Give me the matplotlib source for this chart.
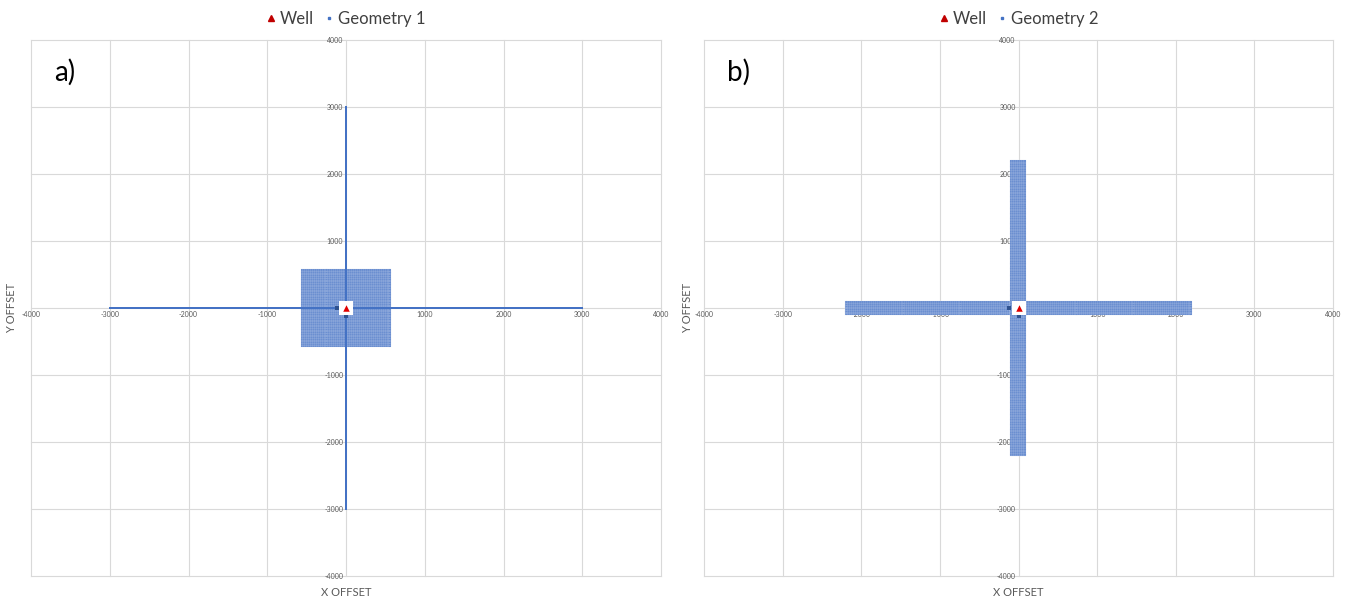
import numpy as np
import matplotlib
matplotlib.use("Agg")
import matplotlib.pyplot as plt
from matplotlib.lines import Line2D

plt.rcParams['font.family'] = ['Lato', 'DejaVu Sans']

# Well position
well_x = [0]
well_y = [0]

# Receiver patch layouts (metres)
receiver_spacing = 25          # grid spacing of the dense patches
line_spacing = 25              # spacing along the single receiver lines
central_hole = 50              # half-size of the gap around the well

# Geometry 1: square patch + single lines along both axes
geo1_patch_half = 560
geo1_line_half = 3000

# Geometry 2: cross of two wide arms
geo2_arm_half_length = 2200
geo2_arm_half_width = 90

# Near-well marker points
near_x = [-120, 0]
near_y = [0, -120]

axis_ticks = [-4000, -3000, -2000, -1000, 1000, 2000, 3000, 4000]
tick_labels = ['-4000', '-3000', '-2000', '-1000', '1000', '2000', '3000', '4000']

BLUE = '#4472C4'
DARK = '#2F528F'
GRID = '#D9D9D9'
TXT = '#595959'


def grid_points(x0, x1, y0, y1, step):
    xs = np.arange(x0, x1 + step / 2, step)
    ys = np.arange(y0, y1 + step / 2, step)
    gx, gy = np.meshgrid(xs, ys)
    return gx.ravel(), gy.ravel()


def drop_hole(x, y, h):
    keep = ~((np.abs(x) < h) & (np.abs(y) < h))
    return x[keep], y[keep]


# Geometry 1 points
p1x, p1y = grid_points(-geo1_patch_half, geo1_patch_half,
                       -geo1_patch_half, geo1_patch_half, receiver_spacing)
p1x, p1y = drop_hole(p1x, p1y, central_hole)
lx = np.arange(-geo1_line_half, geo1_line_half + 1, line_spacing)
l1x = np.concatenate([lx, np.zeros_like(lx)])
l1y = np.concatenate([np.zeros_like(lx), lx])
l1x, l1y = drop_hole(l1x, l1y, central_hole)

# Geometry 2 points
hx, hy = grid_points(-geo2_arm_half_length, geo2_arm_half_length,
                     -geo2_arm_half_width, geo2_arm_half_width, receiver_spacing)
vx, vy = grid_points(-geo2_arm_half_width, geo2_arm_half_width,
                     -geo2_arm_half_length, geo2_arm_half_length, receiver_spacing)
p2x = np.concatenate([hx, vx])
p2y = np.concatenate([hy, vy])
p2x, p2y = drop_hole(p2x, p2y, central_hole)

fig = plt.figure(figsize=(13.48, 5.99), dpi=100)
axes = [fig.add_axes([31 / 1348, 1 - 576 / 599, 630 / 1348, 536 / 599]),
        fig.add_axes([704 / 1348, 1 - 576 / 599, 629 / 1348, 536 / 599])]


def style_axes(ax):
    ax.set_xlim(-4000, 4000)
    ax.set_ylim(-4000, 4000)
    ax.set_xticks(axis_ticks)
    ax.set_xticklabels(tick_labels)
    ax.set_yticks(axis_ticks)
    ax.set_yticklabels(tick_labels)
    ax.spines['left'].set_position('zero')
    ax.spines['bottom'].set_position('zero')
    ax.spines['top'].set_visible(False)
    ax.spines['right'].set_visible(False)
    for s in ('left', 'bottom'):
        ax.spines[s].set_color(GRID)
        ax.spines[s].set_linewidth(0.8)
        ax.spines[s].set_zorder(0.5)
    ax.tick_params(length=0, labelsize=5, labelcolor=TXT, pad=2)
    ax.grid(True, color=GRID, linewidth=0.8, zorder=0)
    ax.set_axisbelow(True)
    for ln in ax.get_xgridlines() + ax.get_ygridlines():
        ln.set_clip_on(False)
    ax.patch.set_visible(False)


def legend_for(ax, name):
    h = [Line2D([], [], linestyle='none', marker='^', color='#C00000',
                markersize=5, label='Well'),
         Line2D([], [], linestyle='none', marker='s', color=BLUE,
                markersize=1.5, label=name)]
    ax.legend(handles=h, ncol=2, loc='center', bbox_to_anchor=(0.5, 1 + 21 / 536),
              frameon=False, fontsize=12, labelcolor='#404040',
              handletextpad=0.25, columnspacing=0.6, handlelength=0.6)


for ax in axes:
    style_axes(ax)

ax1, ax2 = axes
patch_style = dict(s=2.3, marker='s', color=BLUE, edgecolors='#DCE4F4',
                   linewidths=0.2, zorder=3)
ax1.scatter(p1x, p1y, **patch_style)
ax1.scatter(l1x, l1y, s=1.4, marker='s', color=BLUE, linewidths=0, zorder=3)
ax2.scatter(p2x, p2y, **patch_style)

for ax, name, tag in ((ax1, 'Geometry 1', 'a)'), (ax2, 'Geometry 2', 'b)')):
    ax.scatter(near_x, near_y, s=5, marker='s', color=DARK, linewidths=0, zorder=4)
    ax.scatter(well_x, well_y, s=90, marker='s', color='white', linewidths=0, zorder=4)
    ax.scatter(well_x, well_y, s=22, marker='^', color='#E00000', linewidths=0, zorder=5)
    legend_for(ax, name)
    ax.text(0.037, 0.94, tag, transform=ax.transAxes, fontsize=20,
            color='black', va='center', ha='left')
    ax.text(0.5, -0.03, 'X OFFSET', transform=ax.transAxes, fontsize=8,
            color=TXT, ha='center', va='center')

fig.text(12 / 1348, 1 - 308 / 599, 'Y OFFSET', rotation=90, fontsize=8,
         color=TXT, ha='center', va='center')
fig.text(688 / 1348, 1 - 308 / 599, 'Y OFFSET', rotation=90, fontsize=8,
         color=TXT, ha='center', va='center')

fig.savefig('out.png', dpi=100, facecolor='white')
